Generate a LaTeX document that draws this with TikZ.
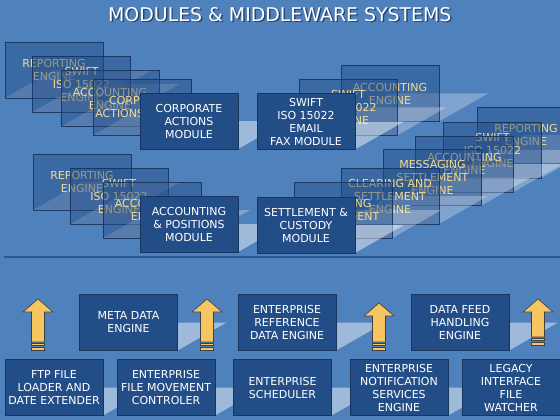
\documentclass[tikz,border=0pt]{standalone}
\usepackage{fontspec}
\setmainfont{DejaVu Sans}
\definecolor{bg}{HTML}{4F81BD}
\definecolor{boxfill}{HTML}{234D87}
\definecolor{boxline}{HTML}{17355F}
\definecolor{gold}{HTML}{F5DA8C}
\definecolor{arrfill}{HTML}{F8C660}
\definecolor{arrline}{HTML}{404040}
\definecolor{sepline}{HTML}{2B568F}
\definecolor{titleshadow}{HTML}{1A2C48}
\tikzset{
 basebox/.style={minimum width=98pt, minimum height=56pt, inner sep=0pt, align=center, font=\fontsize{11}{13}\selectfont},
 modbox/.style={basebox, fill=boxfill, draw=boxline, line width=0.8pt, text=white},
 engbox/.style={basebox, fill=boxfill, fill opacity=0.45, draw=boxline, draw opacity=0.9, line width=0.8pt, text=gold, text opacity=1},
 modboxshad/.style={fill=white, fill opacity=0.45},
 engboxshad/.style={fill=white, fill opacity=0.28},
 arr/.style={fill=arrfill, draw=arrline, line width=0.6pt, line join=miter},
 titlefont/.style={font=\fontsize{18.9}{22}\selectfont},
}
\newcommand\mkbox[5]{%
 \fill[#1shad] ({#3-49},{#4+28}) -- ({#3+49},{#4+28}) -- ({#3+98},{#4}) -- ({#3},{#4}) -- cycle;
 \node[#1] (#2) at (#3,#4) {#5};}
\newcommand\uparrowshape[3]{%
 \draw[arr] (#1,#2) -- ({#1+15},{#2+13}) -- ({#1+6.5},{#2+13}) -- ({#1+6.5},{#3-8}) -- ({#1-6.5},{#3-8}) -- ({#1-6.5},{#2+13}) -- ({#1-15},{#2+13}) -- cycle;
 \draw[arr] ({#1-6.5},{#3-7}) rectangle ({#1+6.5},{#3-4.5});
 \draw[arr] ({#1-6.5},{#3-3}) rectangle ({#1+6.5},{#3});}
\begin{document}
\begin{tikzpicture}[x=1pt,y=-1pt]
\useasboundingbox (0,0) rectangle (560,420);
\begin{scope}
\clip (0,0) rectangle (560,420);
\fill[bg] (0,0) rectangle (560,420);
% title
\node[titlefont, text=titleshadow, text opacity=0.7] (titlesh) at (281.2,15.9) {MODULES \& MIDDLEWARE SYSTEMS};
\node[titlefont, text=white] (title) at (279.8,14.7) {MODULES \& MIDDLEWARE SYSTEMS};
% top-left cluster
\mkbox{engbox}{tl1}{54}{70}{REPORTING\\ENGINE}
\mkbox{engbox}{tl2}{81.5}{84}{SWIFT\\ISO 15022\\ENGINE}
\mkbox{engbox}{tl3}{110}{98.5}{ACCOUNTING\\ENGINE}
\mkbox{engbox}{tl4}{142.5}{107}{CORPORATE\\ACTIONS ENGINE}
\mkbox{modbox}{corp}{189}{121}{CORPORATE\\ACTIONS\\MODULE}
% top-right cluster
\mkbox{engbox}{tr1}{390}{93.5}{ACCOUNTING\\ENGINE}
\mkbox{engbox}{tr2}{348}{107.5}{SWIFT\\ISO 15022\\ENGINE}
\mkbox{modbox}{swift}{306}{121.5}{SWIFT\\ISO 15022\\EMAIL\\FAX MODULE}
% middle-left cluster
\mkbox{engbox}{ml1}{82}{182}{REPORTING\\ENGINE}
\mkbox{engbox}{ml2}{119}{196}{SWIFT\\ISO 15022\\ENGINE}
\mkbox{engbox}{ml3}{152}{210}{ACCOUNTING\\ENGINE}
\mkbox{modbox}{acct}{189}{224}{ACCOUNTING\\\& POSITIONS\\MODULE}
% middle-right cluster
\mkbox{engbox}{mr1}{526}{135}{REPORTING\\ENGINE}
\mkbox{engbox}{mr2}{492.5}{150}{SWIFT\\ISO 15022\\ENGINE}
\mkbox{engbox}{mr3}{464.5}{164}{ACCOUNTING\\ENGINE}
\mkbox{engbox}{mr4}{432.5}{177.5}{MESSAGING\\SETTLEMENT\\ENGINE}
\mkbox{engbox}{mr5}{390}{196}{CLEARING AND\\SETTLEMENT\\ENGINE}
\mkbox{engbox}{mr6}{343.5}{210}{CLEARING\\SETTLEMENT}
\mkbox{modbox}{settle}{306}{225}{SETTLEMENT \&\\CUSTODY\\MODULE}
% separator
\draw[sepline, line width=1.8pt] (4,257) -- (560,257);
% bottom upper row
\mkbox{modbox}{meta}{128.5}{322.5}{META DATA\\ENGINE}
\mkbox{modbox}{refdata}{287}{322.5}{ENTERPRISE\\REFERENCE\\DATA ENGINE}
\mkbox{modbox}{feed}{460}{322.5}{DATA FEED\\HANDLING\\ENGINE}
% bottom lower row
\mkbox{modbox}{ftp}{54}{387.5}{FTP FILE\\LOADER AND\\DATE EXTENDER}
\mkbox{modbox}{filemove}{166}{387.5}{ENTERPRISE\\FILE MOVEMENT\\CONTROLER}
\mkbox{modbox}{sched}{282.5}{387.5}{ENTERPRISE\\SCHEDULER}
\mkbox{modbox}{notif}{399}{387.5}{ENTERPRISE\\NOTIFICATION\\SERVICES\\ENGINE}
\mkbox{modbox}{legacy}{511}{387.5}{LEGACY\\INTERFACE\\FILE\\WATCHER}
% arrows
\uparrowshape{38}{299}{350}
\uparrowshape{207}{299}{350}
\uparrowshape{379}{303}{350}
\uparrowshape{538}{299}{345}
\end{scope}
\end{tikzpicture}
\end{document}
